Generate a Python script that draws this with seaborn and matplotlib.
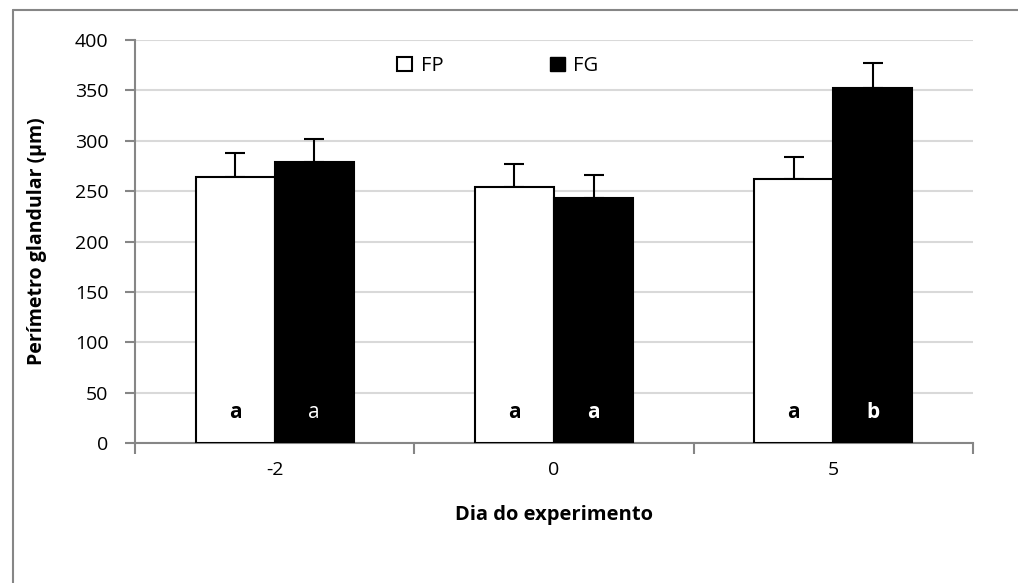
import pandas as pd
import matplotlib.pyplot as plt
import seaborn as sns
from matplotlib.lines import Line2D
from matplotlib.patches import Patch

# Data
days = ["-2", "0", "5"]
groups = ["FP", "FG"]
fp_mean = [264, 254, 262]
fg_mean = [279, 243, 352]
fp_err = [24, 23, 22]
fg_err = [23, 23, 25]
fp_letters = ["a", "a", "a"]
fg_letters = ["a", "a", "b"]
fg_letter_bold = [False, True, True]

df = pd.DataFrame({
    "Dia": days * 2,
    "Grupo": ["FP"] * 3 + ["FG"] * 3,
    "Perimetro": fp_mean + fg_mean,
})

sns.set_style("white")
plt.rcParams["font.family"] = ["Open Sans", "DejaVu Sans"]
plt.rcParams["text.color"] = "black"
plt.rcParams["axes.labelcolor"] = "black"
plt.rcParams["xtick.labelcolor"] = "black"
plt.rcParams["ytick.labelcolor"] = "black"

fig = plt.figure(figsize=(10.18, 5.83), dpi=100)
ax = fig.add_axes([0.1326, 0.2401, 0.8232, 0.6913])

sns.barplot(data=df, x="Dia", y="Perimetro", hue="Grupo", order=days,
            hue_order=groups, palette={"FP": "white", "FG": "black"},
            width=0.566, edgecolor="black", linewidth=1.5, ax=ax,
            legend=False, zorder=3, errorbar=None)

# error bars (upper only) and letters
bars_fp = ax.patches[:3]
bars_fg = ax.patches[3:6]
for bars, means, errs, letters, col in [
        (bars_fp, fp_mean, fp_err, fp_letters, "black"),
        (bars_fg, fg_mean, fg_err, fg_letters, "white")]:
    for i, b in enumerate(bars):
        xc = b.get_x() + b.get_width() / 2
        ax.errorbar(xc, means[i], yerr=[[0], [errs[i]]], fmt="none",
                    ecolor="black", elinewidth=1.5, capsize=7, capthick=1.5,
                    zorder=2)
        bold = True if col == "black" else fg_letter_bold[i]
        ax.text(xc, 30, letters[i], ha="center", va="center", color=col,
                fontsize=15, fontweight="bold" if bold else "normal", zorder=4)

ax.set_ylim(0, 400)
ax.set_xlim(-0.5, 2.5)
ax.set_yticks(range(0, 401, 50))
ax.yaxis.grid(True, color="#d9d9d9", linewidth=1.5, zorder=0)
ax.set_axisbelow(True)
for s in ["top", "right"]:
    ax.spines[s].set_visible(False)
for s in ["left", "bottom"]:
    ax.spines[s].set_color("#868686")
    ax.spines[s].set_linewidth(1.5)

ax.set_xticks([-0.5, 0.5, 1.5, 2.5])
ax.set_xticklabels([])
ax.set_xticks([0, 1, 2], minor=True)
ax.set_xticklabels(days, minor=True)
ax.tick_params(axis="x", which="major", length=8, width=1.5, color="#868686",
               direction="out", bottom=True)
ax.tick_params(axis="x", which="minor", length=0, pad=13, labelsize=14)
ax.tick_params(axis="y", length=7, width=1.5, color="#868686", direction="out",
               left=True, labelsize=14, pad=12)

ax.set_xlabel("Dia do experimento", fontsize=14.5, fontweight="bold", labelpad=19)
ax.set_ylabel("Perímetro glandular (µm)", fontsize=14, fontweight="bold",
              labelpad=20)

handles = [Patch(facecolor="white", edgecolor="black", linewidth=1.5),
           Patch(facecolor="black", edgecolor="black")]
ax.legend(handles, groups, ncol=2, frameon=False, loc="upper center",
          bbox_to_anchor=(0.433, 1.005), fontsize=14.5, handlelength=0.75,
          handleheight=0.75, handletextpad=0.4, columnspacing=5.3)

# outer frame (left and top edges)
fig.add_artist(Line2D([0.0125, 0.0125], [0, 0.983], color="#868686",
                      linewidth=1.5, transform=fig.transFigure))
fig.add_artist(Line2D([0.0125, 1.0], [0.983, 0.983], color="#868686",
                      linewidth=1.5, transform=fig.transFigure))

fig.savefig("out.png", dpi=100)
